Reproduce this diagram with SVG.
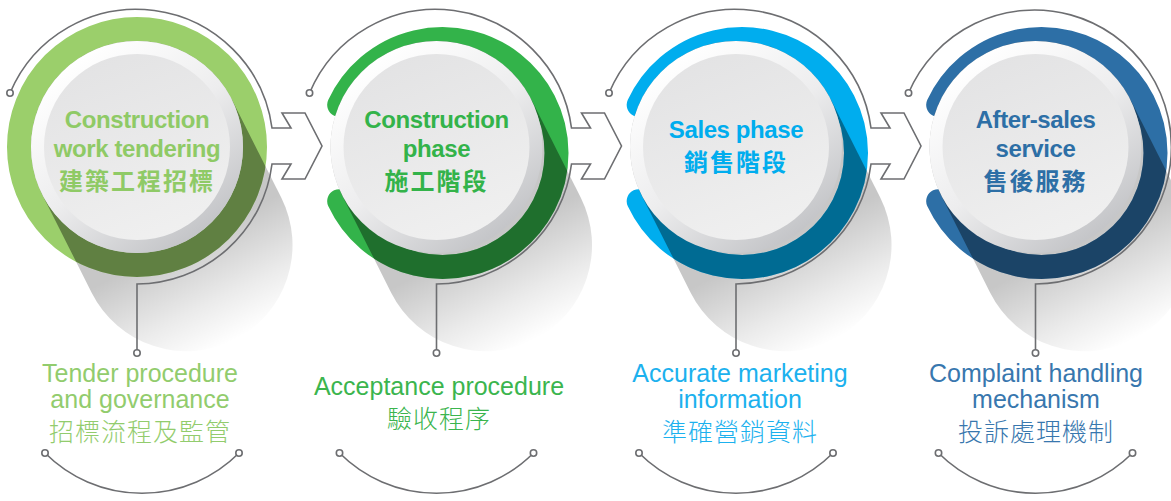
<svg xmlns="http://www.w3.org/2000/svg" width="1171" height="501" viewBox="0 0 1171 501">
<defs>
<style>
.thin{fill:none;stroke:#6d6e71;stroke-width:1.6;stroke-linejoin:miter}
.dot{fill:#fff;stroke:#6d6e71;stroke-width:1.6}
.ring{fill:none;stroke-width:24;stroke-linecap:round}
.ringdark{fill:none;stroke:#000;stroke-opacity:0.38;stroke-width:24;stroke-linecap:round}
.title{font-family:'Liberation Sans',Arial,sans-serif;font-weight:bold;font-size:24px;letter-spacing:-0.4px;text-anchor:middle}
.titlezh{font-family:'Noto Sans CJK TC','Noto Sans CJK SC',sans-serif;font-weight:bold;font-size:24px;letter-spacing:2px;text-anchor:middle}
.sub{font-family:'Liberation Sans',Arial,sans-serif;font-size:25px;text-anchor:middle}
.subzh{font-family:'Noto Sans CJK TC','Noto Sans CJK SC',sans-serif;font-weight:300;font-size:25px;letter-spacing:1px;text-anchor:middle}
</style>
<linearGradient id="shadowGrad" gradientUnits="userSpaceOnUse" x1="47.7" y1="94.7" x2="97.2" y2="192.9">
<stop offset="0" stop-color="#000" stop-opacity="0.22"/>
<stop offset="0.6" stop-color="#000" stop-opacity="0.08"/>
<stop offset="1" stop-color="#000" stop-opacity="0"/>
</linearGradient>
<linearGradient id="bevel" x1="0.2" y1="0.1" x2="0.8" y2="0.9">
<stop offset="0" stop-color="#ffffff"/>
<stop offset="0.5" stop-color="#ededee"/>
<stop offset="1" stop-color="#c4c5c8"/>
</linearGradient>
<linearGradient id="face" x1="0.3" y1="0" x2="0.7" y2="1">
<stop offset="0" stop-color="#e3e3e4"/>
<stop offset="1" stop-color="#f0f0f0"/>
</linearGradient>
<clipPath id="shadowClip" clipPathUnits="userSpaceOnUse">
<path d="M94.7,-47.7 L144.2,50.5 A106,106 0 0 1 -45.2,145.9 L-94.7,47.7 A106,106 0 0 1 94.7,-47.7 Z"/>
</clipPath>
<path id="shadowShape" d="M94.7,-47.7 L144.2,50.5 A106,106 0 0 1 -45.2,145.9 L-94.7,47.7 A106,106 0 0 1 94.7,-47.7 Z"/>
<path id="arcRing" d="M-100.3,-45.2 A114,114 0 1 1 -100.3,51.2" transform="translate(3,3)"/>
</defs>
<rect width="1171" height="501" fill="#fff"/>

<g id="node-1" transform="translate(137,147)">
<use href="#shadowShape" fill="url(#shadowGrad)"/>
<circle class="ring" r="118" stroke="#9bcf6b"/>
<circle class="ringdark" r="118" clip-path="url(#shadowClip)"/>
<circle r="106" fill="url(#bevel)"/>
<circle r="93" fill="url(#face)"/>
<text class="title" fill="#8fca66" x="0" y="-19">Construction</text>
<text class="title" fill="#8fca66" x="0" y="10">work tendering</text>
<text class="titlezh" fill="#8fca66" x="0" y="43">建築工程招標</text>
</g>

<g id="node-2" transform="translate(436.5,147)">
<use href="#shadowShape" fill="url(#shadowGrad)"/>
<use href="#arcRing" class="ring" stroke="#33b34a"/>
<g clip-path="url(#shadowClip)"><use href="#arcRing" class="ringdark"/></g>
<circle r="106" fill="url(#bevel)"/>
<circle r="93" fill="url(#face)"/>
<text class="title" fill="#33b34a" x="0" y="-19">Construction</text>
<text class="title" fill="#33b34a" x="0" y="10">phase</text>
<text class="titlezh" fill="#33b34a" x="0" y="43">施工階段</text>
</g>

<g id="node-3" transform="translate(736,147)">
<use href="#shadowShape" fill="url(#shadowGrad)"/>
<use href="#arcRing" class="ring" stroke="#00adee"/>
<g clip-path="url(#shadowClip)"><use href="#arcRing" class="ringdark"/></g>
<circle r="106" fill="url(#bevel)"/>
<circle r="93" fill="url(#face)"/>
<text class="title" fill="#00adee" x="0" y="-9">Sales phase</text>
<text class="titlezh" fill="#00adee" x="0" y="24">銷售階段</text>
</g>

<g id="node-4" transform="translate(1035.5,147)">
<use href="#shadowShape" fill="url(#shadowGrad)"/>
<use href="#arcRing" class="ring" stroke="#2d6fa6"/>
<g clip-path="url(#shadowClip)"><use href="#arcRing" class="ringdark"/></g>
<circle r="106" fill="url(#bevel)"/>
<circle r="93" fill="url(#face)"/>
<text class="title" fill="#2d6fa6" x="0" y="-19">After-sales</text>
<text class="title" fill="#2d6fa6" x="0" y="10">service</text>
<text class="titlezh" fill="#2d6fa6" x="0" y="43">售後服務</text>
</g>

<g id="label-1">
<text class="sub" fill="#92cc6d" x="140" y="382">Tender procedure</text>
<text class="sub" fill="#92cc6d" x="140" y="408">and governance</text>
<text class="subzh" fill="#92cc6d" x="140" y="441">招標流程及監管</text>
</g>
<g id="label-2">
<text class="sub" fill="#3bb54e" x="439" y="395">Acceptance procedure</text>
<text class="subzh" fill="#3bb54e" x="439" y="428">驗收程序</text>
</g>
<g id="label-3">
<text class="sub" fill="#1cb1ee" x="740" y="382">Accurate marketing</text>
<text class="sub" fill="#1cb1ee" x="740" y="408">information</text>
<text class="subzh" fill="#1cb1ee" x="740" y="441">準確營銷資料</text>
</g>
<g id="label-4">
<text class="sub" fill="#3877ae" x="1036" y="382">Complaint handling</text>
<text class="sub" fill="#3877ae" x="1036" y="408">mechanism</text>
<text class="subzh" fill="#3877ae" x="1036" y="441">投訴處理機制</text>
</g>

<g id="connectors">
<g transform="translate(137,147)">
<path class="thin" d="M-127,-54 A137,137 0 0 1 135,-19 L154,-19 L145,-34 L168,-34 L185,-1 L168,32 L145,32 L154,17 L135,17 A137,137 0 0 1 0,137 L0,203"/>
<circle class="dot" cx="-127" cy="-54" r="3.2"/>
<circle class="dot" cx="0" cy="206" r="3.2"/>
</g>
<g transform="translate(436.5,147)">
<path class="thin" d="M-127,-54 A137,137 0 0 1 135,-19 L154,-19 L145,-34 L168,-34 L185,-1 L168,32 L145,32 L154,17 L135,17 A137,137 0 0 1 0,137 L0,203"/>
<circle class="dot" cx="-127" cy="-54" r="3.2"/>
<circle class="dot" cx="0" cy="206" r="3.2"/>
</g>
<g transform="translate(736,147)">
<path class="thin" d="M-127,-54 A137,137 0 0 1 135,-19 L154,-19 L145,-34 L168,-34 L185,-1 L168,32 L145,32 L154,17 L135,17 A137,137 0 0 1 0,137 L0,203"/>
<circle class="dot" cx="-127" cy="-54" r="3.2"/>
<circle class="dot" cx="0" cy="206" r="3.2"/>
</g>
<g transform="translate(1035.5,147)">
<path class="thin" d="M-127,-54 A137,137 0 1 1 0,137 L0,203"/>
<circle class="dot" cx="-127" cy="-54" r="3.2"/>
<circle class="dot" cx="0" cy="206" r="3.2"/>
</g>
<g transform="translate(142,453)">
<path class="thin" d="M-97,0 A137,137 0 0 0 97,0"/>
<circle class="dot" cx="-97" cy="0" r="3.2"/>
<circle class="dot" cx="97" cy="0" r="3.2"/>
</g>
<g transform="translate(436.5,453)">
<path class="thin" d="M-97,0 A137,137 0 0 0 97,0"/>
<circle class="dot" cx="-97" cy="0" r="3.2"/>
<circle class="dot" cx="97" cy="0" r="3.2"/>
</g>
<g transform="translate(736,453)">
<path class="thin" d="M-97,0 A137,137 0 0 0 97,0"/>
<circle class="dot" cx="-97" cy="0" r="3.2"/>
<circle class="dot" cx="97" cy="0" r="3.2"/>
</g>
<g transform="translate(1035.5,453)">
<path class="thin" d="M-97,0 A137,137 0 0 0 97,0"/>
<circle class="dot" cx="-97" cy="0" r="3.2"/>
<circle class="dot" cx="97" cy="0" r="3.2"/>
</g>
</g>
</svg>
